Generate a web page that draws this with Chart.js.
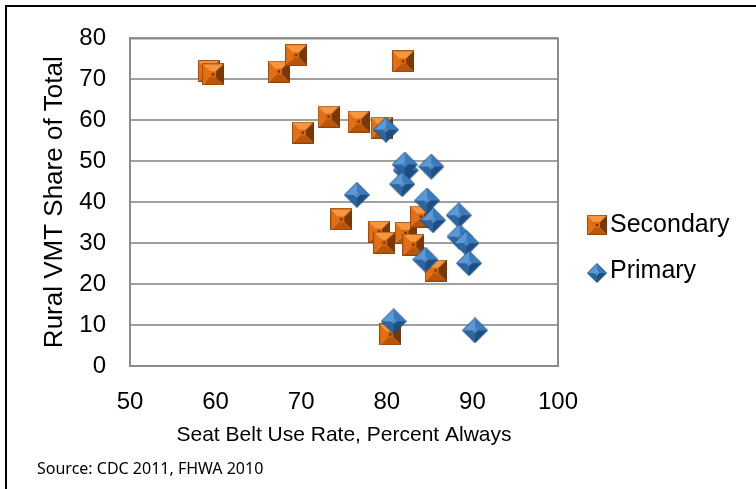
<!DOCTYPE html>
<html>
<head>
<meta charset="utf-8">
<title>Rural VMT share vs seat belt use</title>
<script src="https://cdn.jsdelivr.net/npm/chart.js@4/dist/chart.umd.min.js"></script>
<style>
  html, body { margin: 0; padding: 0; background: #ffffff; }
  #wrap { width: 756px; height: 489px; }
</style>
</head>
<body>
<div id="wrap"><canvas id="chart" width="756" height="489"></canvas></div>
<script>
// Seat belt use rate (x, percent always) and rural VMT share of total (y), by state law type
const secondaryX = [59.2, 59.7, 67.4, 69.4, 81.9, 70.2, 73.2, 76.7, 79.4, 74.7, 79.1, 79.7, 82.2, 83.1, 84.0, 85.7, 80.4];
const secondaryY = [72.0, 71.2, 71.9, 75.9, 74.4, 57.0, 60.9, 59.7, 58.2, 35.8, 32.8, 30.1, 32.5, 29.6, 36.5, 23.3, 7.7];
const primaryX = [79.9, 82.2, 82.1, 85.2, 81.8, 76.5, 84.7, 85.4, 88.4, 88.5, 89.3, 84.5, 89.6, 80.8, 90.3];
const primaryY = [57.7, 47.8, 49.2, 48.7, 44.4, 41.8, 40.4, 35.6, 36.8, 31.6, 30.0, 26.0, 25.1, 10.9, 8.7];
const seriesNames = ['Secondary', 'Primary'];
const xTickValues = [50, 60, 70, 80, 90, 100];
const yTickValues = [0, 10, 20, 30, 40, 50, 60, 70, 80];
const xTitle = 'Seat Belt Use Rate, Percent Always';
const yTitle = 'Rural VMT Share of Total';
const sourceNote = 'Source: CDC 2011, FHWA 2010';

function toPoints(xs, ys) {
  return xs.map((x, i) => ({ x: x, y: ys[i] }));
}

// Bevelled square marker (pyramid look)
function makeSquareMarker(size) {
  const c = document.createElement('canvas');
  c.width = size; c.height = size;
  const g = c.getContext('2d');
  const s = size, b = Math.round(size * 0.36);
  function face(pts, col) {
    g.beginPath();
    g.moveTo(pts[0][0], pts[0][1]);
    for (let i = 1; i < pts.length; i++) g.lineTo(pts[i][0], pts[i][1]);
    g.closePath();
    g.fillStyle = col;
    g.fill();
  }
  face([[0, 0], [s, 0], [s - b, b], [b, b]], '#f7963c');
  face([[0, 0], [0, s], [b, s - b], [b, b]], '#e46f12');
  face([[0, s], [s, s], [s - b, s - b], [b, s - b]], '#b9560a');
  face([[s, 0], [s, s], [s - b, s - b], [s - b, b]], '#7a3806');
  face([[b, b], [s - b, b], [s - b, s - b], [b, s - b]], '#d9650c');
  g.fillStyle = '#5a2a05';
  g.fillRect(Math.floor(s / 2) - 1, Math.floor(s / 2) - 1, 2, 2);
  g.strokeStyle = 'rgba(120,55,5,0.6)';
  g.lineWidth = 1;
  g.strokeRect(0.5, 0.5, s - 1, s - 1);
  return c;
}

// Bevelled diamond marker
function makeDiamondMarker(size) {
  const c = document.createElement('canvas');
  c.width = size; c.height = size;
  const g = c.getContext('2d');
  const r = size / 2, k = size * 0.1;
  function face(pts, col) {
    g.beginPath();
    g.moveTo(pts[0][0], pts[0][1]);
    for (let i = 1; i < pts.length; i++) g.lineTo(pts[i][0], pts[i][1]);
    g.closePath();
    g.fillStyle = col;
    g.fill();
  }
  const T = [r, 0.5], R = [size - 0.5, r], B = [r, size - 0.5], L = [0.5, r];
  const t = [r, r - k], rr = [r + k, r], bb = [r, r + k], l = [r - k, r];
  face([L, T, t, l], '#5b98d6');
  face([T, R, rr, t], '#3a7bbd');
  face([R, B, bb, rr], '#1e4f82');
  face([B, L, l, bb], '#2b66a3');
  face([t, rr, bb, l], '#4a88c8');
  g.beginPath();
  g.moveTo(T[0], T[1]); g.lineTo(R[0], R[1]); g.lineTo(B[0], B[1]); g.lineTo(L[0], L[1]);
  g.closePath();
  g.strokeStyle = '#1c4c7c';
  g.lineWidth = 1;
  g.stroke();
  return c;
}

const squareMarker = makeSquareMarker(22);
const diamondMarker = makeDiamondMarker(26);
const squareIcon = makeSquareMarker(20);
const diamondIcon = makeDiamondMarker(20);

// Page frame, source note and legend
const decorations = {
  id: 'decorations',
  beforeDraw(chart) {
    const ctx = chart.ctx;
    ctx.save();
    ctx.fillStyle = '#ffffff';
    ctx.fillRect(0, 0, chart.width, chart.height);
    ctx.fillStyle = '#000000';
    ctx.fillRect(5, 5, chart.width - 5, 2);
    ctx.fillRect(5, 5, 2, chart.height - 5);
    ctx.restore();
  },
  afterDraw(chart) {
    const ctx = chart.ctx;
    ctx.save();
    ctx.fillStyle = '#000000';
    ctx.font = '16px "Noto Sans"';
    ctx.textAlign = 'left';
    ctx.textBaseline = 'alphabetic';
    ctx.fillText(sourceNote, 37, 474, 231);

    ctx.font = '25px "Liberation Sans", Arial, sans-serif';
    ctx.textBaseline = 'middle';
    ctx.drawImage(squareIcon, 587, 215);
    ctx.fillText(seriesNames[0], 610, 225);
    ctx.drawImage(diamondIcon, 587, 263);
    ctx.fillText(seriesNames[1], 610, 271);
    ctx.restore();
  }
};

const tickFont = { family: '"Liberation Sans", Arial, sans-serif', size: 24 };

new Chart(document.getElementById('chart'), {
  type: 'scatter',
  data: {
    datasets: [
      {
        label: seriesNames[0],
        data: toPoints(secondaryX, secondaryY),
        pointStyle: squareMarker,
        pointRadius: 11,
        pointHoverRadius: 11,
        order: 1
      },
      {
        label: seriesNames[1],
        data: toPoints(primaryX, primaryY),
        pointStyle: diamondMarker,
        pointRadius: 13,
        pointHoverRadius: 13,
        order: 0
      }
    ]
  },
  options: {
    responsive: false,
    animation: false,
    events: [],
    layout: { padding: { left: 0, top: 34, right: 198, bottom: 0 } },
    plugins: {
      legend: { display: false },
      tooltip: { enabled: false }
    },
    scales: {
      x: {
        type: 'linear',
        min: 50,
        max: 100,
        afterBuildTicks(scale) { scale.ticks = xTickValues.map(v => ({ value: v })); },
        afterFit(scale) { scale.height = 123; },
        grid: { display: false, drawTicks: false },
        border: { display: true, color: '#8c8c8c', width: 2 },
        ticks: { color: '#000000', font: tickFont, padding: 22, maxRotation: 0 },
        title: {
          display: true,
          text: xTitle,
          color: '#000000',
          font: { family: '"Liberation Sans", Arial, sans-serif', size: 21 },
          padding: { top: 0, bottom: 41 }
        }
      },
      y: {
        type: 'linear',
        min: 0,
        max: 80,
        afterBuildTicks(scale) { scale.ticks = yTickValues.map(v => ({ value: v })); },
        afterFit(scale) { scale.width = 130; },
        grid: { color: '#a0a0a0', lineWidth: 2, drawTicks: false },
        border: { display: true, color: '#8c8c8c', width: 2 },
        ticks: { color: '#000000', font: tickFont, padding: 24 },
        title: {
          display: true,
          text: yTitle,
          color: '#000000',
          font: { family: '"Liberation Sans", Arial, sans-serif', size: 26 },
          padding: { top: 39, bottom: 0 }
        }
      }
    }
  },
  plugins: [decorations, {
    id: 'plotFrame',
    beforeDatasetsDraw(chart) {
      const a = chart.chartArea, ctx = chart.ctx;
      ctx.save();
      ctx.strokeStyle = '#8c8c8c';
      ctx.lineWidth = 2;
      ctx.beginPath();
      ctx.moveTo(a.left, a.top);
      ctx.lineTo(a.right, a.top);
      ctx.lineTo(a.right, a.bottom);
      ctx.stroke();
      ctx.restore();
    }
  }]
});
</script>
</body>
</html>
